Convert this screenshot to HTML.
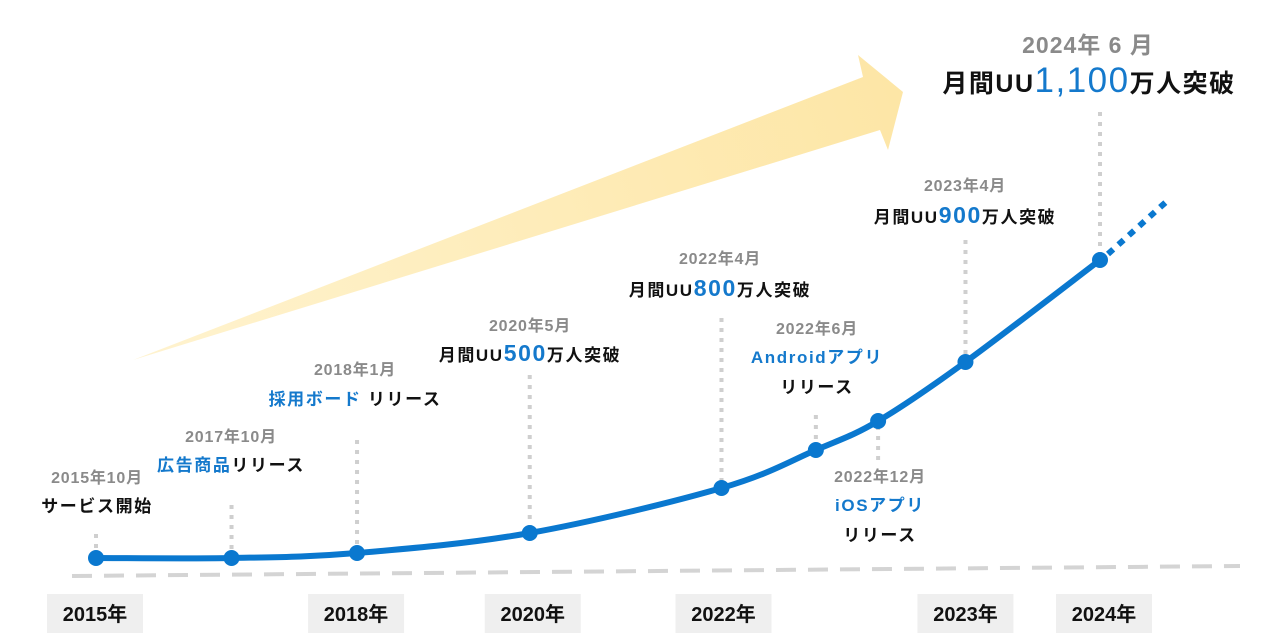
<!DOCTYPE html>
<html><head><meta charset="utf-8">
<style>
html,body{margin:0;padding:0;background:#fff;}
svg{display:block;font-family:"Liberation Sans","Noto Sans CJK JP",sans-serif;}
.d{fill:#8a8a8a;font-size:16px;font-weight:bold;letter-spacing:0.8px;}
.m{fill:#111;font-size:17px;font-weight:bold;letter-spacing:1.6px;}
.b{fill:#1479cc;}
.yr{fill:#111;font-size:20px;font-weight:bold;}
</style></head>
<body>
<svg id="chart" width="1280" height="639" viewBox="0 0 1280 639">
<defs>
<linearGradient id="ag" x1="133" y1="360" x2="900" y2="95" gradientUnits="userSpaceOnUse">
<stop offset="0" stop-color="#fff3cf"/><stop offset="1" stop-color="#fde6a6"/>
</linearGradient>
</defs>
<polygon fill="url(#ag)" points="133,360 863,77 858,55 903,92 888,150 880,130"/>
<line x1="72" y1="576" x2="1240" y2="566" stroke="#d4d4d4" stroke-width="4" stroke-dasharray="20,12"/>
<g id="guides"></g>
<g id="years"></g>
<path id="curve" fill="none" stroke="#0a78cf" stroke-width="6" stroke-linecap="round"/>
<line id="proj" stroke="#0a78cf" stroke-width="6" stroke-dasharray="7,7"/>
<g id="dots"></g>

<g text-anchor="middle">
<text class="d" x="97" y="483">2015年10月</text><text class="m" x="97" y="512">サービス開始</text></g>
<g text-anchor="middle">
<text class="d" x="231" y="442">2017年10月</text><text class="m" x="231" y="471"><tspan class="b">広告商品</tspan>リリース</text></g>
<g text-anchor="middle">
<text class="d" x="355" y="375">2018年1月</text><text class="m" x="355" y="405"><tspan class="b">採用ボード</tspan> リリース</text></g>
<g text-anchor="middle">
<text class="d" x="530" y="331">2020年5月</text><text class="m" x="530" y="361">月間UU<tspan class="b" font-size="23">500</tspan>万人突破</text></g>
<g text-anchor="middle">
<text class="d" x="720" y="264">2022年4月</text><text class="m" x="720" y="296">月間UU<tspan class="b" font-size="23">800</tspan>万人突破</text></g>
<g text-anchor="middle">
<text class="d" x="817" y="334">2022年6月</text><text class="m b" x="817" y="363">Androidアプリ</text><text class="m" x="817" y="393">リリース</text></g>
<g text-anchor="middle">
<text class="d" x="880" y="482">2022年12月</text><text class="m b" x="880" y="511">iOSアプリ</text><text class="m" x="880" y="541">リリース</text></g>
<g text-anchor="middle">
<text class="d" x="965" y="191">2023年4月</text><text class="m" x="965" y="223">月間UU<tspan class="b" font-size="23">900</tspan>万人突破</text></g>
<g text-anchor="middle">
<text x="1088" y="53" fill="#8a8a8a" font-size="23" font-weight="bold" letter-spacing="1">2024年 6 月</text>
<text x="1089" y="92" fill="#111" font-size="25" font-weight="bold" letter-spacing="1.5">月間UU<tspan fill="#1479cc" font-size="35" font-weight="normal">1,100</tspan>万人突破</text></g>
</svg>
<script>
// schematic timeline position (0..100) and relative UU level for each milestone
const milestones = ["2015-10","2017-10","2018-01","2020-05","2022-04","2022-06","2022-12","2023-04","2024-06"];
const timePos = [0, 13.5, 26, 43.2, 62.3, 71.7, 77.9, 86.6, 100];
const levels = [0, 0, 5, 25, 70, 108, 137, 196, 298];
const guideTop = [534, 505, 440, 375, 318, 415, 460, 240, 112];
const yearLabels = ["2015年","2018年","2020年","2022年","2023年","2024年"];
const yearPos = [-0.1, 25.9, 43.5, 62.5, 86.6, 100.4];

const xs = t => 96 + t * 10.04;
const ys = v => 558 - v;
const NS = "http://www.w3.org/2000/svg";
const pts = timePos.map((t,i)=>[xs(t), ys(levels[i])]);

const gG = document.getElementById('guides');
pts.forEach((p,i)=>{
  const l = document.createElementNS(NS,'line');
  
  
  l.setAttribute('x1', p[0]); l.setAttribute('x2', p[0]);
  l.setAttribute('y1', guideTop[i]); l.setAttribute('y2', p[1]);
  l.setAttribute('stroke', '#cfcfcf'); l.setAttribute('stroke-width', '4');
  l.setAttribute('stroke-dasharray', '4,6');
  gG.appendChild(l);
});

let d = `M${pts[0][0]},${pts[0][1]}`;
for (let i=0;i<pts.length-1;i++){
  const p0=pts[Math.max(0,i-1)],p1=pts[i],p2=pts[i+1],p3=pts[Math.min(pts.length-1,i+2)];
  const c1=[p1[0]+(p2[0]-p0[0])/6,p1[1]+(p2[1]-p0[1])/6];
  const c2=[p2[0]-(p3[0]-p1[0])/6,p2[1]-(p3[1]-p1[1])/6];
  d+=` C${c1[0]},${c1[1]} ${c2[0]},${c2[1]} ${p2[0]},${p2[1]}`;
}
document.getElementById('curve').setAttribute('d', d);
const last = pts[pts.length-1];
const pr = document.getElementById('proj');
pr.setAttribute('x1', last[0]+8); pr.setAttribute('y1', last[1]-6);
pr.setAttribute('x2', last[0]+66); pr.setAttribute('y2', last[1]-58);

const gD = document.getElementById('dots');
pts.forEach((p,i)=>{
  const c = document.createElementNS(NS,'circle');
  
  
  c.setAttribute('cx', p[0]); c.setAttribute('cy', p[1]); c.setAttribute('r', 8);
  c.setAttribute('fill', '#0a78cf');
  gD.appendChild(c);
});

const gY = document.getElementById('years');
yearLabels.forEach((lab,i)=>{
  const cx = xs(yearPos[i]);
  const g = document.createElementNS(NS,'g');
  
  
  const r = document.createElementNS(NS,'rect');
  r.setAttribute('x', cx-48); r.setAttribute('y', 594); r.setAttribute('width', 96); r.setAttribute('height', 39);
  r.setAttribute('fill', '#efefef');
  const t = document.createElementNS(NS,'text');
  t.setAttribute('x', cx); t.setAttribute('y', 621); t.setAttribute('text-anchor','middle');
  t.setAttribute('class','yr'); t.textContent = lab;
  g.appendChild(r); g.appendChild(t); gY.appendChild(g);
});
</script>
</body></html>
